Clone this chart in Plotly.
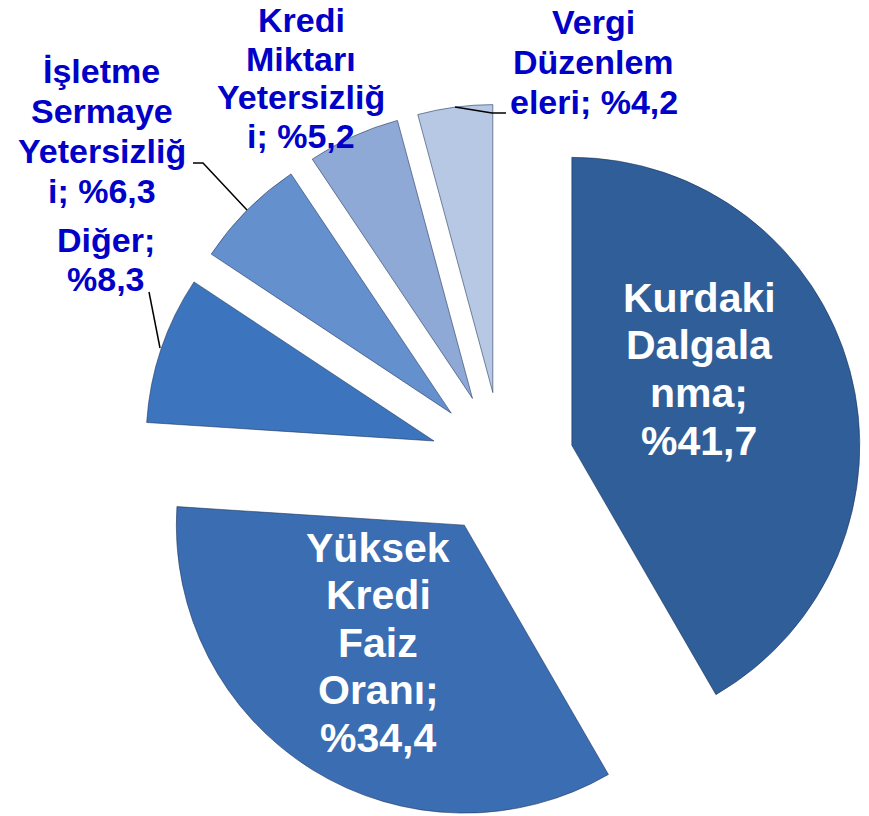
import plotly.graph_objects as go

# ---- data ----
labels = ["Kurdaki Dalgalanma", "Yüksek Kredi Faiz Oranı", "Diğer",
          "İşletme Sermaye Yetersizliği", "Kredi Miktarı Yetersizliği",
          "Vergi Düzenlemeleri"]
values = [41.7, 34.4, 8.3, 6.3, 5.2, 4.2]
# label names as wrapped in the original chart ("|" = line break)
wrapped_names = ["Kurdaki|Dalgala|nma;", "Yüksek|Kredi|Faiz|Oranı;",
                 "Diğer;", "İşletme|Sermaye|Yetersizliğ|i;",
                 "Kredi|Miktarı|Yetersizliğ|i;", "Vergi|Düzenlem|eleri;"]
# value on its own line (True) or appended to the last name line (False)
value_newline = [True, True, True, False, False, False]

colors = ["#2F5E99", "#3A6DB2", "#3C74BE", "#6590CE", "#8FA9D6", "#B7C8E5"]

W, H = 869, 830

def px(x, y):
    """reference-image pixel -> paper coordinates"""
    return x / W, 1 - y / H

fig = go.Figure(go.Pie(
    labels=labels, values=values, sort=False, direction="clockwise", rotation=0,
    pull=0.25, textinfo="none", hoverinfo="label+percent", showlegend=False,
    marker=dict(colors=colors, line=dict(color="rgba(25,45,85,0.55)", width=1)),
    domain=dict(x=[0.163, 0.993], y=[0.0073, 0.8747]),
))

def label_lines(i):
    val = "%" + f"{values[i]:.1f}".replace(".", ",")
    lines = wrapped_names[i].split("|")
    if value_newline[i]:
        lines.append(val)
    else:
        lines[-1] = lines[-1] + " " + val
    return lines

# label layout: centre x and first baseline (pixels), line step, style
lay = [
    dict(cx=699, base=312, step=47.7, inside=True),
    dict(cx=378, base=562, step=47.5, inside=True),
    dict(cx=106, base=252, step=38.5, inside=False),
    dict(cx=101.5, base=83, step=40, inside=False),
    dict(cx=301, base=32, step=38.5, inside=False),
    dict(cx=593.5, base=34, step=39.7, inside=False),
]

FONT = "Liberation Sans, Arial, sans-serif"
annotations = []
for i in range(len(values)):
    L = lay[i]
    size = 41 if L["inside"] else 34
    color = "white" if L["inside"] else "#0000C8"
    for k, line in enumerate(label_lines(i)):
        baseline = L["base"] + k * L["step"]
        ymid = baseline - 0.3465 * size
        x, y = px(L["cx"], ymid)
        annotations.append(dict(
            x=x, y=y, xref="paper", yref="paper", showarrow=False,
            text=line, xanchor="center", yanchor="middle",
            font=dict(family=FONT, weight="bold", size=size, color=color),
        ))

# leader lines (reference pixels)
leaders = [
    [(455, 107), (492, 113), (506, 113)],
    [(193, 163), (203, 163), (247, 210)],
    [(149, 292), (160, 348)],
]
shapes = []
for pts in leaders:
    p = [px(*q) for q in pts]
    path = "M " + " L ".join(f"{a:.5f},{b:.5f}" for a, b in p)
    shapes.append(dict(type="path", path=path, xref="paper", yref="paper",
                       line=dict(color="black", width=1.5)))

fig.update_layout(
    width=W, height=H, margin=dict(l=0, r=0, t=0, b=0),
    paper_bgcolor="white", plot_bgcolor="white",
    annotations=annotations, shapes=shapes,
)

fig.write_html("out.html", config={"displayModeBar": False},
               post_script="document.body.style.margin='0';")
